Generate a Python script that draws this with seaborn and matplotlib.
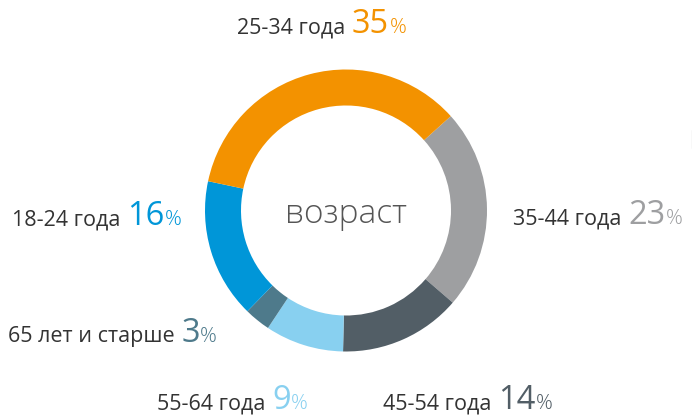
import matplotlib
matplotlib.use("Agg")
import matplotlib.pyplot as plt
import seaborn as sns
from matplotlib.lines import Line2D

# Data (clockwise from upper right)
groups = ['35-44 года', '45-54 года', '55-64 года', '65 лет и старше', '18-24 года', '25-34 года']
shares = [23, 14, 9, 3, 16, 35]
colors = ['#9e9fa1', '#525e66', '#88d0f0', '#4e7a8b', '#0096d8', '#f39200']

# label anchors: left x, baseline y (pixels from top)
label_pos = [(513, 224), (383, 409), (157, 409), (8, 342), (12, 225), (237, 33)]

W, H = 692, 417

sns.set_theme(style="white")
plt.rcParams['font.family'] = ['Open Sans', 'DejaVu Sans']

fig = plt.figure(figsize=(W / 100, H / 100), dpi=100)
ax = fig.add_axes([0, 0, 1, 1])

cx, cy, r = 346, H - 210.5, 141
ax.pie(shares, colors=colors, startangle=42, counterclock=False,
       center=(cx, cy), radius=r, frame=True,
       wedgeprops=dict(width=36, linewidth=0))
ax.set_xlim(0, W)
ax.set_ylim(0, H)
ax.set_aspect('equal')
ax.axis('off')

ax.text(cx, H - 223, 'возраст', ha='center', va='baseline',
        fontsize=24, color='#555555', fontweight='light')

fig.canvas.draw()
renderer = fig.canvas.get_renderer()
inv = ax.transData.inverted()

for g, s, c, (x, y) in zip(groups, shares, colors, label_pos):
    t1 = ax.text(x, H - y, g + ' ', ha='left', va='baseline',
                 fontsize=15.5, color='#333333')
    bb = t1.get_window_extent(renderer)
    x2 = inv.transform((bb.x1, 0))[0]
    t2 = ax.text(x2 + 1, H - y, str(s), ha='left', va='baseline',
                 fontsize=23.5, color=c)
    bb2 = t2.get_window_extent(renderer)
    x3 = inv.transform((bb2.x1, 0))[0]
    ax.text(x3 + 0.5, H - y, '%', ha='left', va='baseline',
            fontsize=15, color=c, fontweight='light')

# small mark at the right edge
fig.add_artist(Line2D([691.5 / W, 691.5 / W], [1 - 130 / H, 1 - 148 / H],
                      color='#dddddd', linewidth=1))

fig.savefig('out.png', dpi=100)
